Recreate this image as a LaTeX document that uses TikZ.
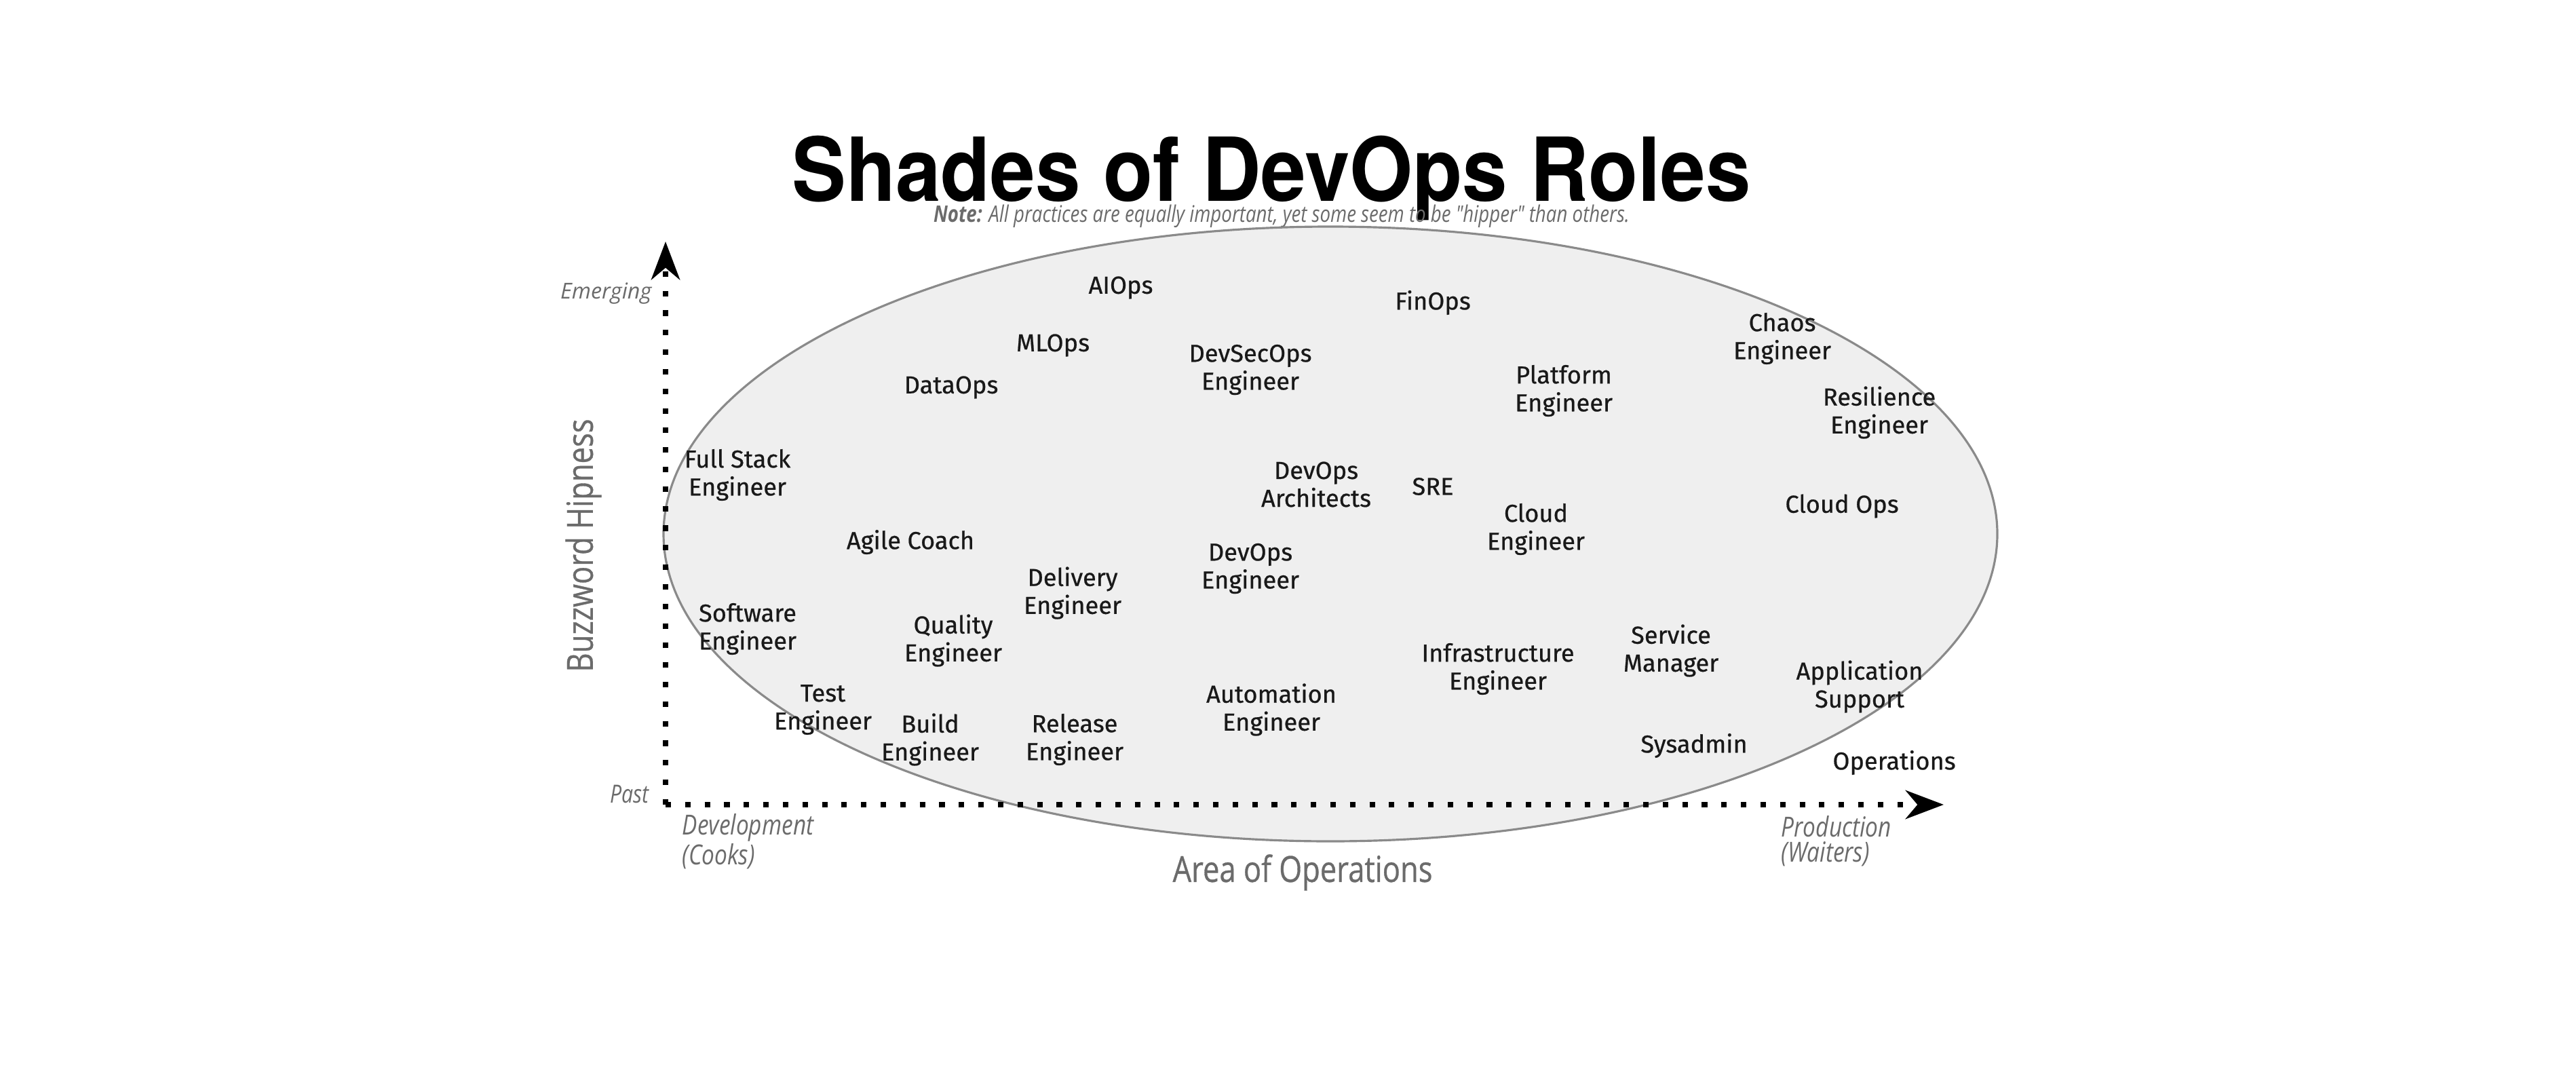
\documentclass[tikz,border=0pt]{standalone}
\usepackage{fontspec}
\usepackage{xcolor}
\usetikzlibrary{arrows.meta}
\setmainfont{Fira Sans}
\newfontfamily\rolefont[FakeBold=0.6]{Fira Sans}
\newfontfamily\titlefont[FakeStretch=0.92]{TeX Gyre Heros}
\newfontfamily\axisfont[FakeStretch=0.82]{Open Sans}
\newfontfamily\axisboldfont[FakeStretch=0.82, FakeBold=0.6]{Open Sans}
\newfontfamily\widefont{Open Sans}
\definecolor{axisgray}{HTML}{6B6B6B}
\definecolor{areagray}{HTML}{EFEFEF}
\definecolor{edgegray}{HTML}{8A8A8A}

\begin{document}
\begin{tikzpicture}[x=1cm, y=-1cm,
    role/.style={align=center, inner sep=0pt, text=black!90, font=\rolefont\fontsize{10.3}{11.7}\selectfont},
    axislabel/.style={text=axisgray, inner sep=0pt, font=\axisboldfont\fontsize{15.1}{17}\selectfont},
    endlabel/.style={text=axisgray, inner sep=0pt, align=left, anchor=west, font=\axisfont\itshape\fontsize{11.6}{10.5}\selectfont},
    axisline/.style={line width=2.3pt, dash pattern=on 2.3pt off 5.9pt, -{Stealth[length=16pt, width=12pt, inset=5pt]}}]
  \useasboundingbox (0,0) rectangle (37.97,15.82);

  % Title and note
  \node[anchor=base, inner sep=0pt, font=\titlefont\bfseries\fontsize{37}{40}\selectfont] (title) at (18.74,2.96) {Shades of DevOps Roles};
  \node[inner sep=0pt, text=axisgray, font=\axisfont\itshape\fontsize{9.6}{10}\selectfont] (note) at (18.89,3.19) {\textbf{Note:} All practices are equally important, yet some seem to be "hipper" than others.};

  % Area of the roles
  \filldraw[fill=areagray, draw=edgegray, line width=0.9pt] (19.61,7.87) ellipse [x radius=9.83cm, y radius=4.53cm];

  % Axes
  \coordinate (origin) at (9.81,11.86);
  \coordinate (ytip) at (9.81,3.56);
  \coordinate (xtip) at (28.65,11.86);
  \draw[axisline] (origin) -- (ytip);
  \draw[axisline] (origin) -- (xtip);

  % Axis labels
  \node[anchor=east, inner sep=0pt, text=axisgray, font=\widefont\itshape\fontsize{9.2}{10}\selectfont] (emerging) at (9.61,4.33) {Emerging};
  \node[anchor=east, inner sep=0pt, text=axisgray, font=\axisfont\itshape\fontsize{10.5}{10}\selectfont] (past) at (9.57,11.70) {Past};
  \node[axislabel, rotate=90] (hipness) at (8.60,8.04) {Buzzword Hipness};
  \node[axislabel] (area) at (19.20,12.86) {Area of Operations};
  \node[endlabel] (dev) at (10.05,12.40) {Development\\(Cooks)};
  \node[endlabel] (prod) at (26.25,12.40) {Production\\(Waiters)};

  % Roles
  \node[role] (aiops) at (16.52,4.24) {AIOps};
  \node[role] (finops) at (21.12,4.46) {FinOps};
  \node[role] (mlops) at (15.52,5.09) {MLOps};
  \node[role] (devsecops) at (18.43,5.45) {DevSecOps\\Engineer};
  \node[role] (chaos) at (26.27,4.99) {Chaos\\Engineer};
  \node[role] (dataops) at (14.02,5.71) {DataOps};
  \node[role] (platform) at (23.05,5.76) {Platform\\Engineer};
  \node[role] (resilience) at (27.70,6.08) {Resilience\\Engineer};
  \node[role] (fullstack) at (10.87,7.00) {Full Stack\\Engineer};
  \node[role] (architects) at (19.40,7.14) {DevOps\\Architects};
  \node[role] (sre) at (21.12,7.17) {SRE};
  \node[role] (cloudops) at (27.15,7.46) {Cloud Ops};
  \node[role] (cloudeng) at (22.64,7.80) {Cloud\\Engineer};
  \node[role] (agile) at (13.42,7.99) {Agile Coach};
  \node[role] (devopseng) at (18.43,8.38) {DevOps\\Engineer};
  \node[role] (delivery) at (15.81,8.74) {Delivery\\Engineer};
  \node[role] (software) at (11.02,9.27) {Software\\Engineer};
  \node[role] (quality) at (14.05,9.44) {Quality\\Engineer};
  \node[role] (infra) at (22.08,9.86) {Infrastructure\\Engineer};
  \node[role] (service) at (24.63,9.59) {Service\\Manager};
  \node[role] (appsupport) at (27.41,10.12) {Application\\Support};
  \node[role] (test) at (12.13,10.46) {Test\\Engineer};
  \node[role] (automation) at (18.74,10.46) {Automation\\Engineer};
  \node[role] (build) at (13.71,10.90) {Build\\Engineer};
  \node[role] (release) at (15.84,10.90) {Release\\Engineer};
  \node[role] (sysadmin) at (24.97,10.99) {Sysadmin};
  \node[role] (operations) at (27.92,11.24) {Operations};
\end{tikzpicture}
\end{document}
